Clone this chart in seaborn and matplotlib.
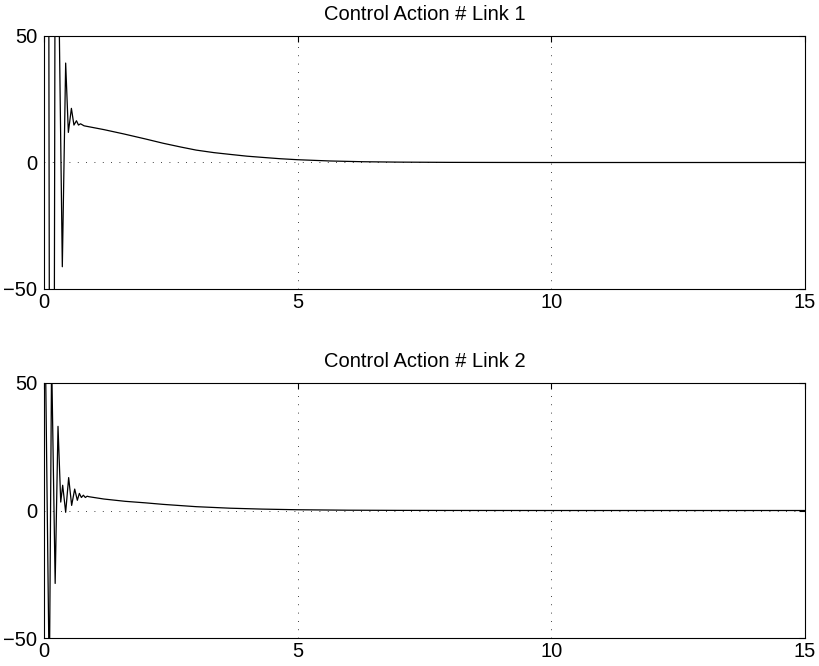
import numpy as np
import pandas as pd
import matplotlib
matplotlib.use("Agg")
import matplotlib.pyplot as plt
import seaborn as sns

# ---- data ----
titles = ["Control Action # Link 1", "Control Action # Link 2"]

t_link1 = [0.0, 0.05, 0.15, 0.25, 0.30, 0.361, 0.427, 0.48, 0.54, 0.59, 0.64, 0.68,
           0.72, 0.79, 1.18, 1.57, 2.0, 2.35, 2.7, 3.0, 3.35, 3.67, 4.0, 4.32, 4.65,
           5.0, 5.64, 6.3, 7.0, 8.0, 9.0, 10.0, 15.0]
u_link1 = [0.0, 600.0, -600.0, 400.0, 55.0, -41.2, 39.3, 11.9, 21.4, 14.8, 16.5, 14.8,
           15.3, 14.5, 13.0, 11.3, 9.3, 7.6, 6.1, 4.9, 3.9, 3.2, 2.5, 2.0, 1.5,
           1.1, 0.6, 0.3, 0.15, 0.05, 0.02, 0.0, 0.0]

t_link2 = [0.0, 0.105, 0.15, 0.22, 0.276, 0.33, 0.368, 0.427, 0.486, 0.545, 0.605,
           0.657, 0.697, 0.737, 0.776, 0.815, 0.85, 0.888, 1.18, 1.6, 2.0, 2.35, 3.0,
           3.67, 4.3, 4.98, 6.0, 7.0, 8.0, 10.0, 15.0]
u_link2 = [110.0, -70.0, 60.0, -28.6, 33.0, 3.3, 9.9, -0.7, 12.9, 2.0, 8.4,
           4.0, 6.7, 5.1, 6.0, 5.1, 5.6, 5.4, 4.5, 3.6, 3.0, 2.4, 1.5,
           0.9, 0.55, 0.3, 0.12, 0.05, 0.02, 0.0, 0.0]

x_ticks = [0, 5, 10, 15]
y_ticks = [-50, 0, 50]

series = [(t_link1, u_link1), (t_link2, u_link2)]

# ---- style ----
sns.set_theme(style="white")
plt.rcParams["font.family"] = ["Liberation Sans", "DejaVu Sans"]

fig = plt.figure(figsize=(8.2, 6.66), dpi=100)
W, H = 820.0, 666.0
boxes = [(44, 36, 805, 289), (44, 383, 805, 638)]

for (l, tp, r, b), (tt, uu), title in zip(boxes, series, titles):
    ax = fig.add_axes([l / W, 1 - b / H, (r - l) / W, (b - tp) / H])
    df = pd.DataFrame({"t": tt, "u": uu})
    sns.lineplot(data=df, x="t", y="u", ax=ax, color="black", linewidth=0.9,
                 sort=False, estimator=None, zorder=3)
    ax.set_xlim(0, 15)
    ax.set_ylim(-50, 50)
    ax.set_xticks(x_ticks)
    ax.set_yticks(y_ticks)
    ax.set_xlabel("")
    ax.set_ylabel("")
    ax.grid(True, color="black", linestyle=(0, (1, 9)), linewidth=0.6)
    ax.set_axisbelow(True)
    for s in ax.spines.values():
        s.set_color("black")
        s.set_linewidth(0.8)
    ax.tick_params(direction="in", length=4.5, width=0.8, colors="black",
                   labelsize=14.5, top=True, right=True, pad=5)
    ax.tick_params(axis="x", pad=3)
    ax.set_title(title, fontsize=14.5, color="black", pad=11.5)
    ax.set_facecolor("white")

fig.patch.set_facecolor("white")
fig.savefig("out.png", dpi=100, facecolor="white")
